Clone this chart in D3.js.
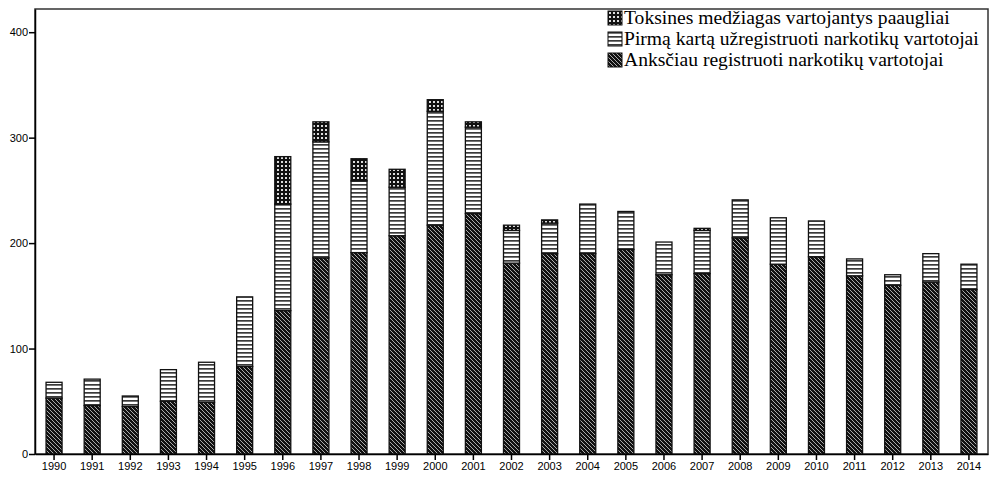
<!DOCTYPE html>
<html lang="lt">
<head>
<meta charset="UTF-8">
<title>Narkotikų vartotojai</title>
<style>
  body { margin: 0; background: #fff; }
  #chart { display: block; }
  .tick text { font-family: "Liberation Sans", Arial, sans-serif; font-size: 11px; fill: #000; }
  .legend text { font-family: "Liberation Serif", "DejaVu Serif", serif; font-size: 19.6px; fill: #000; }
</style>
</head>
<body>
<svg id="chart"></svg>
<script src="https://cdnjs.cloudflare.com/ajax/libs/d3/7.9.0/d3.min.js"></script>
<script>
// data
const years = ["1990","1991","1992","1993","1994","1995","1996","1997","1998","1999","2000","2001","2002",
  "2003","2004","2005","2006","2007","2008","2009","2010","2011","2012","2013","2014"];
const earlier = [53,46,45,50,49,83,136,186,191,207,217,228,181,190,190,194,170,171,205,180,187,169,160,163,156];
const firstTime = [15,25,10,30,38,66,101,110,68,46,108,82,31,29,47,36,31,41,36,44,34,16,10,27,24];
const toxic = [0,0,0,0,0,0,45,19,21,17,11,5,5,3,0,0,0,2,0,0,0,0,0,0,0];
const yTicks = [0, 100, 200, 300, 400];
const seriesNames = ["Toksines medžiagas vartojantys paaugliai",
  "Pirmą kartą užregistruoti narkotikų vartotojai",
  "Anksčiau registruoti narkotikų vartotojai"];

const w = 992, h = 477;
const plotLeft = 35, plotRight = 988, plotTop = 9, plotBottom = 454;

const svg = d3.select("#chart").attr("width", w).attr("height", h);

// fill patterns
const defs = svg.append("defs");
const diag = defs.append("pattern").attr("id", "p-diag")
  .attr("patternUnits", "userSpaceOnUse").attr("width", 4).attr("height", 4);
diag.append("rect").attr("width", 4).attr("height", 4).attr("fill", "#111");
diag.append("path").attr("d", "M-1,-1 L5,5 M-1,3 L1,5 M3,-1 L5,1")
  .attr("stroke", "#bbb").attr("stroke-width", 0.9);

const horiz = defs.append("pattern").attr("id", "p-horiz")
  .attr("patternUnits", "userSpaceOnUse").attr("width", 4).attr("height", 4);
horiz.append("rect").attr("width", 4).attr("height", 4).attr("fill", "#fff");
horiz.append("rect").attr("y", 0).attr("width", 4).attr("height", 1.7).attr("fill", "#3a3a3a");

const grid = defs.append("pattern").attr("id", "p-grid")
  .attr("patternUnits", "userSpaceOnUse").attr("width", 4).attr("height", 4);
grid.append("rect").attr("width", 4).attr("height", 4).attr("fill", "#111");
grid.append("rect").attr("x", 1).attr("y", 1).attr("width", 2).attr("height", 2).attr("fill", "#ddd");

// scales
const x = d3.scaleBand().domain(years).range([plotLeft, plotRight]).paddingInner(0.58).paddingOuter(0.29);
const y = d3.scaleLinear().domain([0, 422]).range([plotBottom, plotTop]);

// frame
svg.append("rect")
  .attr("x", plotLeft).attr("y", plotTop)
  .attr("width", plotRight - plotLeft).attr("height", plotBottom - plotTop)
  .attr("fill", "none").attr("stroke", "#333").attr("stroke-width", 1.5);

// stacked bars
const rows = years.map((yr, i) => ({ year: yr, earlier: earlier[i], first: firstTime[i], toxic: toxic[i] }));
const stack = d3.stack().keys(["earlier", "first", "toxic"])(rows);
const fills = { earlier: "url(#p-diag)", first: "url(#p-horiz)", toxic: "url(#p-grid)" };

svg.append("g").selectAll("g")
  .data(stack)
  .enter().append("g")
  .attr("fill", d => fills[d.key])
  .selectAll("rect")
  .data(d => d.filter(s => s[1] - s[0] > 0))
  .enter().append("rect")
  .attr("x", d => x(d.data.year))
  .attr("width", x.bandwidth())
  .attr("y", d => y(d[1]))
  .attr("height", d => y(d[0]) - y(d[1]))
  .attr("stroke", "#111")
  .attr("stroke-width", 1.3);

// axes
const xAxis = d3.axisBottom(x).tickSize(6).tickSizeOuter(0);
const yAxis = d3.axisLeft(y).tickValues(yTicks).tickSize(6).tickSizeOuter(0);

const gx = svg.append("g").attr("transform", "translate(0," + plotBottom + ")").call(xAxis);
gx.selectAll("line, path").attr("stroke", "#000").attr("stroke-width", 1.5);
gx.selectAll("text").attr("dy", "0.72em").attr("y", 8);

const gy = svg.append("g").attr("transform", "translate(" + plotLeft + ",0)").call(yAxis);
gy.selectAll("line, path").attr("stroke", "#000").attr("stroke-width", 1.5);
gy.selectAll("text").attr("x", -7);

// legend
const legendFills = ["url(#p-grid)", "url(#p-horiz)", "url(#p-diag)"];
const legend = svg.append("g").attr("class", "legend");
seriesNames.forEach((name, i) => {
  const row = legend.append("g").attr("transform", "translate(608," + (11 + i * 21) + ")");
  row.append("rect").attr("width", 14).attr("height", 14)
    .attr("fill", legendFills[i]).attr("stroke", "#111").attr("stroke-width", 1);
  row.append("text").attr("x", 16).attr("y", 13).text(name);
});
</script>
</body>
</html>
